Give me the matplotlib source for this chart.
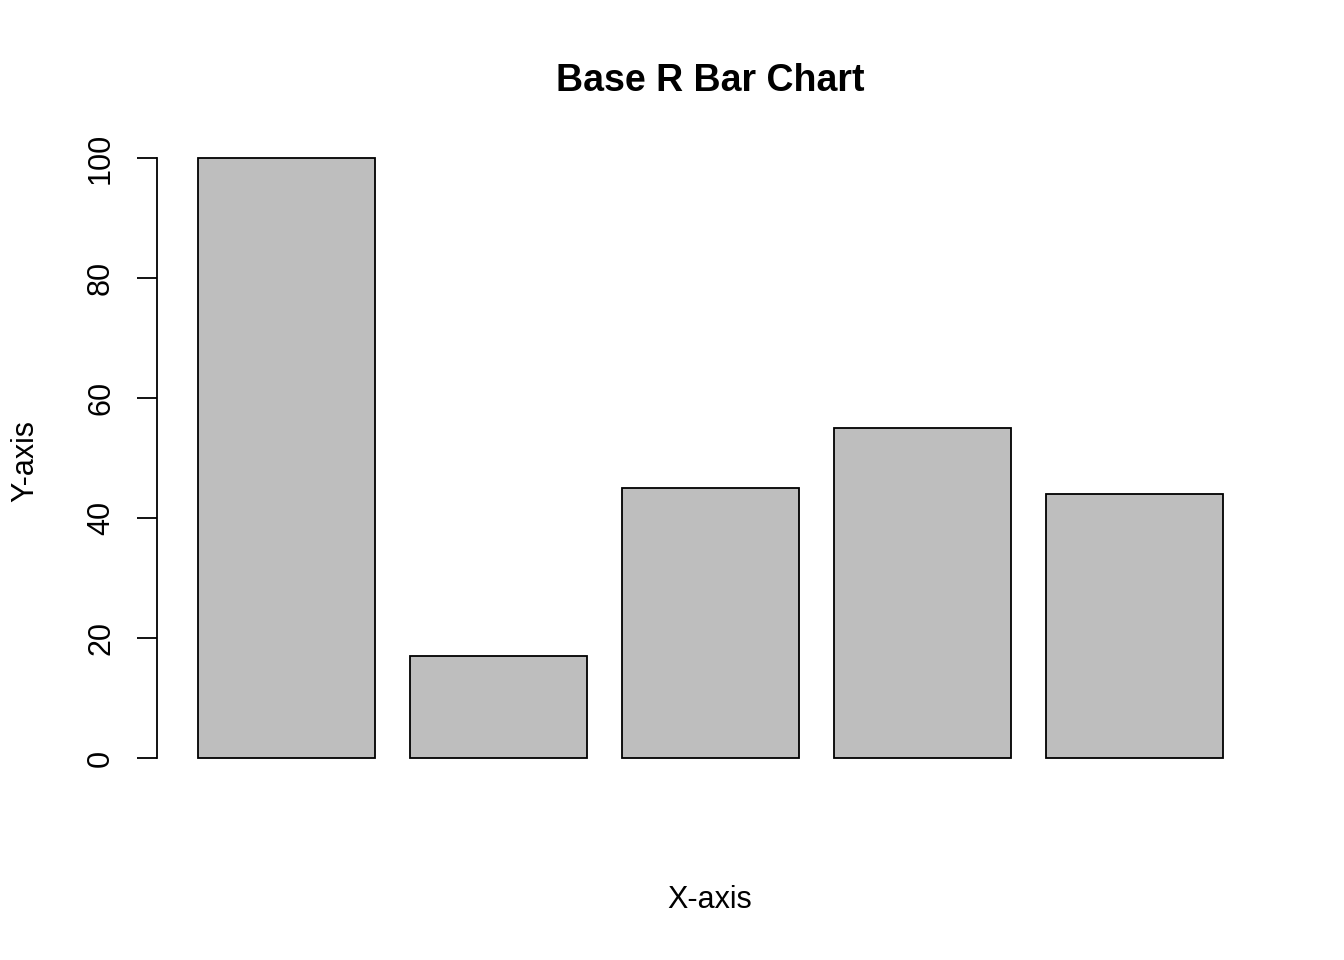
import numpy as np
import matplotlib.pyplot as plt

plt.rcParams['font.family'] = ['Liberation Sans', 'DejaVu Sans']

# data
values = [100, 17, 45, 55, 44]
yticks = [0, 20, 40, 60, 80, 100]

# R barplot positions: width 1, space 0.2
lefts = 0.2 + np.arange(len(values)) * 1.2

fig = plt.figure(figsize=(13.44, 9.6), dpi=100)
ax = fig.add_axes([157/1344, 1 - 782/960, (1264-157)/1344, (782-134)/960])

ax.bar(lefts, values, width=1.0, align='edge', color='#bebebe',
       edgecolor='black', linewidth=1.3)

ax.set_xlim(-0.032, 6.232)
ax.set_ylim(-4, 104)

for s in ['top', 'right', 'bottom']:
    ax.spines[s].set_visible(False)
ax.spines['left'].set_bounds(0, 100)
ax.spines['left'].set_linewidth(1.3)

ax.set_xticks([])
ax.set_yticks(yticks)
ax.set_yticklabels([str(t) for t in yticks], rotation=90, va='center', fontsize=22)
ax.tick_params(axis='y', length=14.5, width=1.3, pad=15)

fig.text(710/1344, 1 - 81/960, 'Base R Bar Chart', ha='center', va='center',
         fontsize=27, fontweight='bold')
fig.text(710/1344, 1 - 900/960, 'X-axis', ha='center', va='center', fontsize=22)
fig.text(25/1344, 1 - 461/960, 'Y-axis', ha='center', va='center', fontsize=22,
         rotation=90)

fig.savefig('out.png', dpi=100)
